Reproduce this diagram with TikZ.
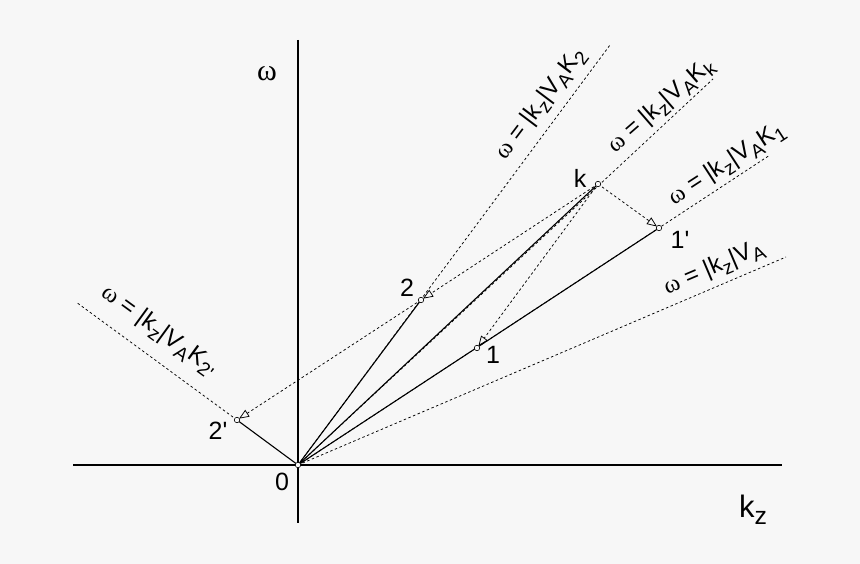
\documentclass[tikz,border=0pt]{standalone}
\usepackage{fontspec}
\setmainfont{Liberation Sans}
\newfontfamily\grk{Liberation Serif}
\usetikzlibrary{arrows.meta}
\newcommand{\lo}[1]{\raisebox{-0.45ex}{\scalebox{0.8}{#1}}}
\newcommand{\relA}[1]{{\grk ω} = |k\lo{z}|V\lo{A}#1}

\tikzset{
	pt/.style={draw, circle, inner sep=0pt, minimum size=5.5pt, fill=white!97!black},
	dline/.style={dash pattern=on 2.5pt off 2.5pt, line width=0.75pt},
	darrow/.style={dline, -{Triangle[open, length=10pt, width=8pt]}, shorten >=2.5pt},
	lbl/.style={font=\fontsize{25}{28}\selectfont},
	rel/.style={font=\fontsize{24}{26}\selectfont, inner sep=0pt}
}

\begin{document}
\begin{tikzpicture}[x=1pt, y=-1pt, line width=1.1pt]
		%%%%% START %%%%%
		
		\fill[white!97!black] (0, 0) rectangle (860, 564);
		\useasboundingbox (0, 0) rectangle (860, 564);
		
		% axes
		\coordinate (xl) at (73, 465);
		\coordinate (xr) at (782, 465);
		\coordinate (yt) at (298, 40);
		\coordinate (yb) at (298, 523);
		\draw (xl) -- (xr);
		\draw (yt) -- (yb);
		
		% ends of the dashed lines
		\coordinate (eK2) at (610, 45);
		\coordinate (eKk) at (713, 79);
		\coordinate (eK1) at (770, 155);
		\coordinate (eVA) at (786, 257);
		\coordinate (eK2p) at (76, 302);
		
		% points
		\coordinate (O) at (298, 465);
		\coordinate (k) at (598, 184);
		\coordinate (p1') at (659, 228);
		\coordinate (p2) at (421, 300);
		\coordinate (p1) at (477, 348);
		\coordinate (p2') at (237, 420);
		
		\draw[dline] (O) -- (eK2);
		\draw[dline] (O) -- (eKk);
		\draw[dline] (O) -- (eK1);
		\draw[dline] (O) -- (eVA);
		\draw[dline] (p2') -- (eK2p);
		
		\draw (O) -- (p2);
		\draw (O) -- (k);
		\draw (O) -- (p1');
		\draw (O) -- (p2');
		
		\draw[darrow] (k) -- (p1');
		\draw[darrow] (k) -- (p2);
		\draw[darrow] (p2) -- (p2');
		\draw[darrow] (k) -- (p1);
		
		\foreach \p in {O, k, p1', p2, p1, p2'}
			\node[pt, line width=0.6pt] at (\p) {};
		
		% labels
		\node[font=\fontsize{30}{32}\selectfont\grk] (w) at (267, 74) {ω};
		\node[font=\fontsize{31}{33}\selectfont] (kz) at (753, 510) {k\lo{z}};
		\node[lbl] (l0) at (282, 482) {0};
		\node[lbl] (l2p) at (218, 431) {2\textquotesingle};
		\node[lbl] (l2) at (407, 288) {2};
		\node[lbl] (l1) at (493, 355) {1};
		\node[lbl] (l1p) at (680, 240) {1\textquotesingle};
		\node[lbl] (lk) at (580, 178) {k};
		
		\node[rel, rotate=53] (rK2) at (541, 104) {\relA{K\lo{2}}};
		\node[rel, rotate=41] (rKk) at (661, 106) {\relA{K\lo{k}}};
		\node[rel, rotate=33] (rK1) at (727, 164) {\relA{K\lo{1}}};
		\node[rel, rotate=23] (rVA) at (714, 268) {\relA{}};
		\node[rel, rotate=-36] (rK2p) at (159, 331) {\relA{K\lo{2\textquotesingle}}};
		
		%%%%% END %%%%%
	\end{tikzpicture}
\end{document}
